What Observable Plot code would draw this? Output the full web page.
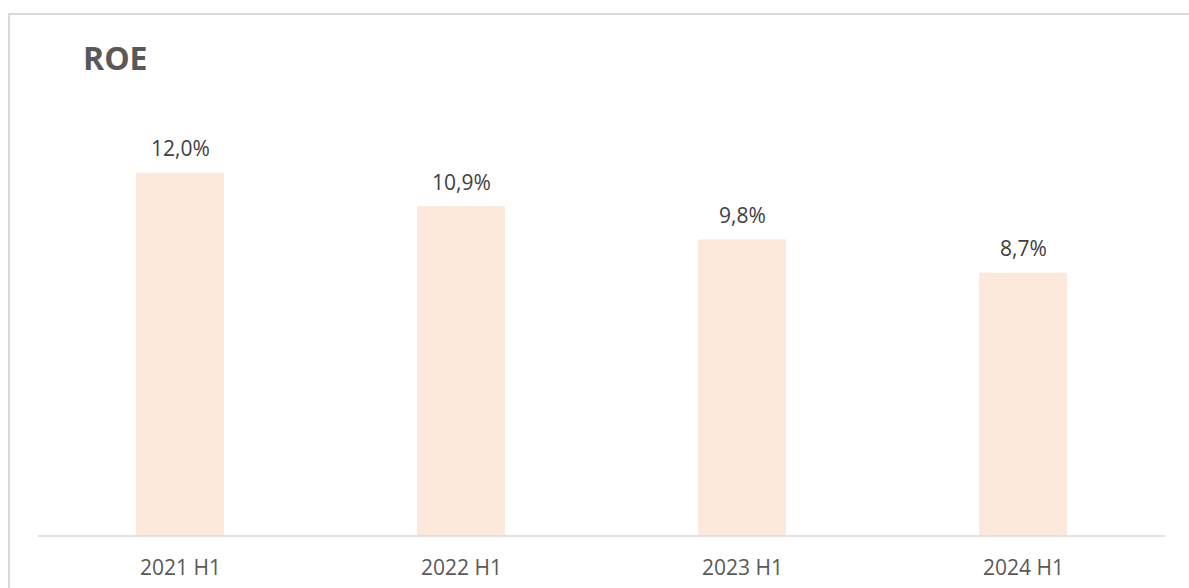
<!DOCTYPE html>
<html>
<head>
<meta charset="utf-8">
<script src="https://cdn.jsdelivr.net/npm/d3@7"></script>
<script src="https://cdn.jsdelivr.net/npm/@observablehq/plot@0.6"></script>
<style>
  html, body { margin: 0; padding: 0; background: #fff; overflow: hidden; }
  #wrap { position: relative; width: 1189px; height: 588px; font-family: "Open Sans", sans-serif; }
  #frame { position: absolute; left: 8px; top: 13px; width: 1200px; height: 600px;
           border-top: 2px solid #d9d9d9; border-left: 2px solid #d9d9d9; box-sizing: border-box; }
  #title { position: absolute; left: 83px; top: 42px; font-size: 32px; line-height: 32px;
           font-weight: 700; color: #595959; margin: 0; }
  #chart { position: absolute; left: 0; top: 0; }
</style>
</head>
<body>
<div id="wrap">
  <div id="frame"></div>
  <div id="title">ROE</div>
  <div id="chart"></div>
</div>
<script>
const categories = ["2021 H1", "2022 H1", "2023 H1", "2024 H1"];
const values = [12.0, 10.9, 9.8, 8.7];
const valueLabels = ["12,0%", "10,9%", "9,8%", "8,7%"];

const data = categories.map((c, i) => ({ cat: c, v: values[i], label: valueLabels[i] }));

const chart = Plot.plot({
  width: 1189,
  height: 588,
  marginLeft: 38,
  marginRight: 24,
  marginTop: 112.5,
  marginBottom: 52.5,
  style: { fontFamily: "Open Sans, sans-serif", background: "transparent" },
  x: { domain: categories, paddingInner: 0.688, paddingOuter: 0.344, label: null },
  y: { domain: [0, 14], axis: null },
  marks: [
    Plot.barY(data, { x: "cat", y: "v", fill: "#FCE9DB" }),
    Plot.ruleY([0], { stroke: "#d9d9d9", strokeWidth: 1.5 }),
    Plot.text(data, { x: "cat", y: "v", text: "label", dy: -17, lineAnchor: "bottom",
                      fontSize: 21, fill: "#404040" }),
    Plot.axisX({ tickSize: 0, tickPadding: 24, fontSize: 21, color: "#595959", label: null })
  ]
});
document.getElementById("chart").appendChild(chart);
</script>
</body>
</html>
